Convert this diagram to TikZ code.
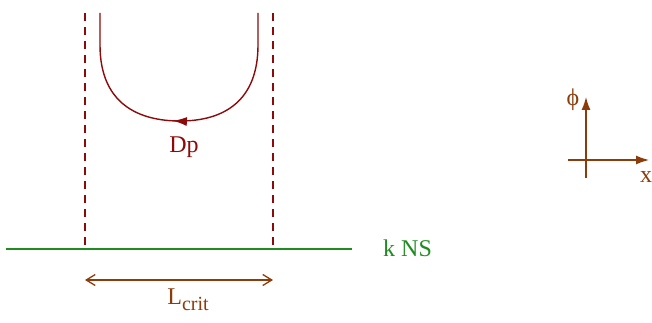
\documentclass[tikz,border=0pt]{standalone}
\usepackage{fontspec}
\setmainfont{Liberation Serif}
\usetikzlibrary{arrows.meta,decorations.markings}
\definecolor{dred}{RGB}{140,10,10}
\definecolor{brn}{RGB}{140,60,10}
\definecolor{grn}{RGB}{30,140,30}
\tikzset{
  dashline/.style={dred,line width=1.2pt,dash pattern=on 8pt off 6pt},
  lab/.style={font=\fontsize{24}{24}\selectfont,inner sep=0pt},
}
\begin{document}
\begin{tikzpicture}[x=1pt,y=-1pt]
\useasboundingbox (0,0) rectangle (652,323);
% dashed verticals
\draw[dashline] (85,13) -- (85,249);
\draw[dashline] (273,13) -- (273,249);
% green line
\draw[grn,line width=1.4pt] (6,249) -- (352,249);
\node[lab,text=grn,anchor=west] (kns) at (383,248) {k NS};
% U curve
\draw[dred,line width=1.4pt,postaction={decorate},
  decoration={markings,mark=at position 0.52 with {\arrow{Latex[length=14pt,width=9pt]}}}]
  (258,13) -- (258,45) .. controls (258,100) and (225,121) .. (180,121)
  .. controls (140,121) and (100,105) .. (100,45) -- (100,13);
\node[lab,text=dred] (dp) at (184,147) {Dp};
% L crit
\coordinate (la) at (85,280);
\coordinate (lb) at (273,280);
\draw[brn,line width=1.3pt,{Straight Barb[length=9pt,width=11pt]}-{Straight Barb[length=9pt,width=11pt]}] (la) -- (lb);
\node[lab,text=brn] (lc) at (188,300) {L\raisebox{-6pt}{\fontsize{20}{20}\selectfont crit}};
% axes
\coordinate (o) at (586,160);
\coordinate (yt) at (586,97);
\coordinate (yb) at (586,178);
\coordinate (xl) at (568,160);
\coordinate (xt) at (649,160);
\draw[brn,line width=1.3pt,-{Latex[length=13pt,width=9pt]}] (yb) -- (yt);
\draw[brn,line width=1.3pt,-{Latex[length=13pt,width=9pt]}] (xl) -- (xt);
\node[lab,text=brn] (phi) at (573,100) {ϕ};
\node[lab,text=brn] (xx) at (646,177) {x};
\end{tikzpicture}
\end{document}
